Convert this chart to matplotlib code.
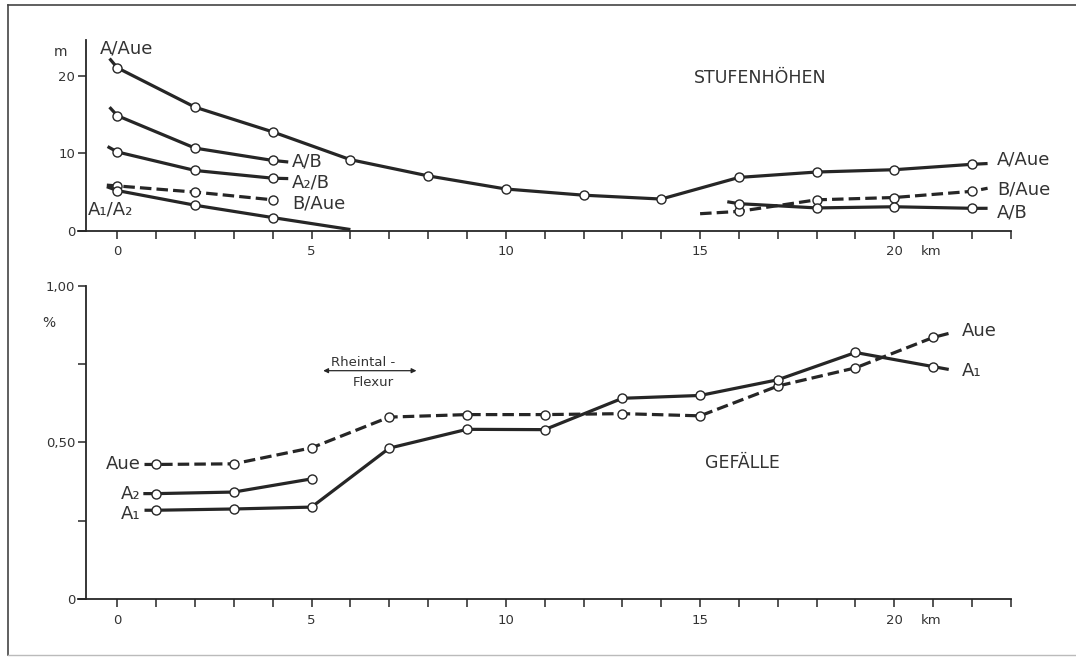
import matplotlib
matplotlib.use('Agg')
import matplotlib.pyplot as plt
from matplotlib.lines import Line2D

# --- Stufenhöhen (m) ---  first and last entries are the line tails (no marker)
aa_km = [-0.2, 0, 2, 4, 6, 8, 10, 12, 14, 16, 18, 20, 22, 22.4]
aa_m = [22.3, 21.1, 16.0, 12.8, 9.2, 7.1, 5.4, 4.6, 4.1, 6.9, 7.6, 7.9, 8.6, 8.7]
ab_km = [-0.2, 0, 2, 4, 4.4]
ab_m = [16.0, 14.9, 10.7, 9.1, 8.9]
a2b_km = [-0.25, 0, 2, 4, 4.4]
a2b_m = [10.9, 10.2, 7.8, 6.8, 6.75]
baue_km = [-0.27, 0, 2, 4]
baue_m = [5.9, 5.8, 5.0, 4.0]
a1a2_km = [-0.27, 0, 2, 4, 6.0]
a1a2_m = [5.7, 5.2, 3.3, 1.7, 0.15]
baue_r_km = [15.0, 16, 18, 20, 22, 22.4]
baue_r_m = [2.2, 2.5, 4.0, 4.3, 5.1, 5.5]
ab_r_km = [15.7, 16, 18, 20, 22, 22.4]
ab_r_m = [3.75, 3.5, 2.95, 3.1, 2.9, 2.9]

# --- Gefälle (%) ---
aue_km = [0.7, 1, 3, 5, 7, 9, 11, 13, 15, 17, 19, 21, 21.5]
aue_g = [0.43, 0.43, 0.432, 0.483, 0.581, 0.589, 0.589, 0.592, 0.585, 0.68, 0.738, 0.835, 0.851]
a2_km = [0.67, 1, 3, 5]
a2_g = [0.337, 0.337, 0.342, 0.384]
a1_km = [0.7, 1, 3, 5, 7, 9, 11, 13, 15, 17, 19, 21, 21.4]
a1_g = [0.284, 0.284, 0.288, 0.294, 0.482, 0.542, 0.541, 0.641, 0.65, 0.70, 0.787, 0.742, 0.733]

ink = '#262626'
txt = '#333333'
W, H = 1076, 661
fig = plt.figure(figsize=(W / 100, H / 100), dpi=100)
fig.patch.set_facecolor('white')

def px_axes(x0, y_top, x1, y_bot):
    return fig.add_axes([x0 / W, 1 - y_bot / H, (x1 - x0) / W, (y_bot - y_top) / H])

ax1 = px_axes(78.45, 40, 1010.9, 230.7)
ax2 = px_axes(78.45, 285.7, 1010.9, 599.3)

def draw(ax, x, y, dashed=False, last_marker=False):
    end = None if last_marker else -1
    ax.plot(x, y, color=ink, lw=2.3, ls=(0, (3.6, 1.6)) if dashed else '-',
            marker='o', markevery=slice(1, end), ms=6.5, mfc='white',
            mec=ink, mew=1.0, solid_capstyle='butt', zorder=3)

draw(ax1, aa_km, aa_m)
draw(ax1, ab_km, ab_m)
draw(ax1, a2b_km, a2b_m)
draw(ax1, baue_km, baue_m, dashed=True, last_marker=True)
draw(ax1, a1a2_km, a1a2_m)
draw(ax1, baue_r_km, baue_r_m, dashed=True)
draw(ax1, ab_r_km, ab_r_m)

draw(ax2, aue_km, aue_g, dashed=True)
draw(ax2, a2_km, a2_g, last_marker=True)
draw(ax2, a1_km, a1_g)

for ax in (ax1, ax2):
    ax.set_xlim(-1.0, 23.0)
    ax.spines['top'].set_visible(False)
    ax.spines['right'].set_visible(False)
    ax.spines['left'].set_position(('data', -0.8))
    for s in ('left', 'bottom'):
        ax.spines[s].set_color(ink)
        ax.spines[s].set_linewidth(1.3)
    ax.set_xticks(range(0, 24))
    ax.set_xticklabels([str(k) if k % 5 == 0 and k < 21 else '' for k in range(0, 24)])
    ax.tick_params(axis='x', length=5.5, width=1.1, color=ink, pad=5,
                   labelsize=9.5, labelcolor=txt)
    ax.tick_params(axis='y', length=6, width=1.1, color=ink, pad=2,
                   labelsize=9.5, labelcolor=txt)
    ax.patch.set_alpha(0)
    # unit label next to the last numbered tick
    ax.annotate('km', xy=(20.95, 0), xycoords=('data', 'axes fraction'),
                xytext=(0, -10.5), textcoords='offset points', fontsize=9.5,
                color=txt, ha='center', va='top')

ax1.set_ylim(0, 24.7)
ax1.set_yticks([0, 10, 20])

ax2.set_ylim(0, 1.0)
ax2.set_yticks([0, 0.25, 0.5, 0.75, 1.0])
ax2.set_yticklabels(['0', '', '0,50', '', '1,00'])

fs = 13
# axis units
ax1.text(-1.3, 23.2, 'm', fontsize=10, color=txt, ha='right', va='center', clip_on=False)
ax2.text(-1.6, 0.88, '%', fontsize=10, color=txt, ha='right', va='center', clip_on=False)

# Stufenhöhen labels
ax1.text(-0.45, 23.6, 'A/Aue', fontsize=fs, color=txt, va='center')
ax1.text(4.5, 8.9, 'A/B', fontsize=fs, color=txt, va='center')
ax1.text(4.5, 6.3, 'A₂/B', fontsize=fs, color=txt, va='center')
ax1.text(4.5, 3.5, 'B/Aue', fontsize=fs, color=txt, va='center')
ax1.text(-0.75, 2.7, 'A₁/A₂', fontsize=fs, color=txt, va='center')
ax1.text(22.65, 9.2, 'A/Aue', fontsize=fs, color=txt, va='center', clip_on=False)
ax1.text(22.65, 5.4, 'B/Aue', fontsize=fs, color=txt, va='center', clip_on=False)
ax1.text(22.65, 2.3, 'A/B', fontsize=fs, color=txt, va='center', clip_on=False)
ax1.text(16.55, 19.8, 'STUFENHÖHEN', fontsize=12.5, color=txt, ha='center', va='center')

# Gefälle labels
ax2.text(0.6, 0.433, 'Aue', fontsize=fs, color=txt, ha='right', va='center')
ax2.text(0.6, 0.335, 'A₂', fontsize=fs, color=txt, ha='right', va='center')
ax2.text(0.6, 0.272, 'A₁', fontsize=fs, color=txt, ha='right', va='center')
ax2.text(21.75, 0.855, 'Aue', fontsize=fs, color=txt, va='center', clip_on=False)
ax2.text(21.75, 0.727, 'A₁', fontsize=fs, color=txt, va='center', clip_on=False)
ax2.text(16.1, 0.434, 'GEFÄLLE', fontsize=12.5, color=txt, ha='center', va='center')

ax2.annotate('', xy=(5.3, 0.729), xytext=(7.7, 0.729),
             arrowprops=dict(arrowstyle='<|-|>', color=ink, lw=0.9,
                             mutation_scale=7, shrinkA=0, shrinkB=0))
ax2.text(5.5, 0.735, 'Rheintal -', fontsize=9.5, color=txt, va='bottom')
ax2.text(6.05, 0.69, 'Flexur', fontsize=9.5, color=txt, va='center')

# page frame
fig.add_artist(Line2D([8 / W, 8 / W], [1 - 655 / H, 1 - 5 / H], color='#444444', lw=1.2))
fig.add_artist(Line2D([8 / W, 1.0], [1 - 5 / H, 1 - 5 / H], color='#444444', lw=1.2))
fig.add_artist(Line2D([8 / W, 1.0], [1 - 655 / H, 1 - 655 / H], color='#bbbbbb', lw=1.0))

fig.savefig('out.png', dpi=100, facecolor='white')
